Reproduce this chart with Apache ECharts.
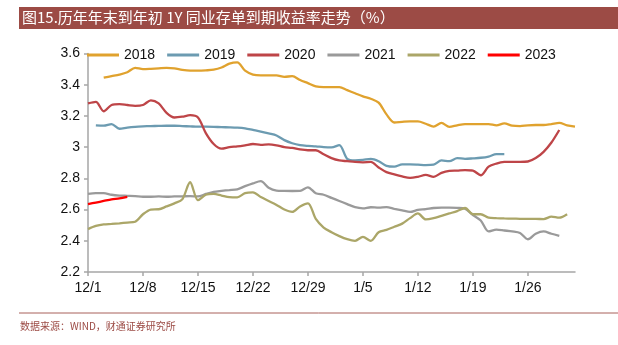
<!DOCTYPE html>
<html><head><meta charset="utf-8">
<script src="https://cdn.jsdelivr.net/npm/echarts@6/dist/echarts.min.js"></script>
<style>html,body{margin:0;padding:0;background:#fff}#c{width:618px;height:345px}</style>
</head><body><div id="c"></div>
<script>
const categories = ["12/1","12/2","12/3","12/4","12/5","12/6","12/7","12/8","12/9","12/10","12/11","12/12","12/13","12/14","12/15","12/16","12/17","12/18","12/19","12/20","12/21","12/22","12/23","12/24","12/25","12/26","12/27","12/28","12/29","12/30","12/31","1/1","1/2","1/3","1/4","1/5","1/6","1/7","1/8","1/9","1/10","1/11","1/12","1/13","1/14","1/15","1/16","1/17","1/18","1/19","1/20","1/21","1/22","1/23","1/24","1/25","1/26","1/27","1/28","1/29","1/30","1/31","2/1"];
const seriesNames = ["2018","2019","2020","2021","2022","2023"];
const y2018 = [null,null,3.445,3.455,3.465,3.48,3.508,3.50,3.502,3.505,3.508,3.505,3.495,3.49,3.49,3.492,3.496,3.51,3.535,3.543,3.49,3.465,3.46,3.46,3.46,3.45,3.455,3.43,3.41,3.39,3.385,3.385,3.385,3.365,3.345,3.325,3.31,3.285,3.21,3.158,3.162,3.165,3.165,3.15,3.132,3.155,3.13,3.14,3.148,3.148,3.148,3.148,3.14,3.152,3.138,3.135,3.14,3.142,3.142,3.148,3.155,3.14,3.132];
const y2019 = [null,3.14,3.138,3.148,3.118,3.125,3.13,3.133,3.135,3.136,3.137,3.137,3.135,3.133,3.131,3.131,3.13,3.128,3.127,3.125,3.12,3.11,3.10,3.088,3.075,3.045,3.025,3.013,3.008,3.005,3.0,2.998,3.013,2.925,2.915,2.918,2.925,2.91,2.88,2.875,2.89,2.89,2.888,2.885,2.888,2.915,2.91,2.93,2.925,2.928,2.932,2.94,2.955,2.955,null,null,null,null,null,null,null,null,null];
const y2020 = [3.28,3.29,3.23,3.27,3.275,3.27,3.265,3.27,3.30,3.28,3.22,3.19,3.195,3.205,3.19,3.09,3.02,2.99,3.0,3.005,3.012,3.02,3.015,3.018,3.012,3.0,2.995,2.985,2.98,2.98,2.955,2.93,2.915,2.91,2.905,2.903,2.905,2.87,2.84,2.825,2.812,2.803,2.81,2.822,2.81,2.835,2.848,2.85,2.853,2.85,2.82,2.875,2.895,2.905,2.906,2.906,2.908,2.93,2.97,3.03,3.11,null,null];
const y2021 = [2.70,2.705,2.705,2.695,2.69,2.688,2.686,2.682,2.682,2.684,2.682,2.684,2.685,2.686,2.684,2.70,2.714,2.72,2.725,2.73,2.75,2.768,2.782,2.74,2.722,2.72,2.719,2.72,2.742,2.705,2.695,2.675,2.655,2.635,2.615,2.608,2.615,2.612,2.616,2.605,2.595,2.585,2.598,2.603,2.61,2.612,2.612,2.611,2.605,2.565,2.53,2.46,2.472,2.466,2.46,2.45,2.41,2.445,2.46,2.445,2.432,null,null];
const y2022 = [2.475,2.495,2.505,2.508,2.512,2.517,2.522,2.57,2.60,2.602,2.62,2.64,2.665,2.775,2.66,2.695,2.70,2.69,2.68,2.678,2.705,2.71,2.68,2.655,2.63,2.60,2.585,2.62,2.64,2.54,2.485,2.455,2.43,2.41,2.40,2.425,2.40,2.455,2.47,2.49,2.51,2.545,2.575,2.537,2.545,2.56,2.575,2.59,2.61,2.57,2.57,2.548,2.545,2.543,2.542,2.541,2.54,2.54,2.539,2.555,2.548,2.57,null];
const y2023 = [2.635,2.645,2.655,2.665,2.672,2.682,null,null,null,null,null,null,null,null,null,null,null,null,null,null,null,null,null,null,null,null,null,null,null,null,null,null,null,null,null,null,null,null,null,null,null,null,null,null,null,null,null,null,null,null,null,null,null,null,null,null,null,null,null,null,null,null,null];
const yTickMin = 2.2, yTickMax = 3.6, yTickStep = 0.2;
const titleText = "图15.历年年末到年初 1Y 同业存单到期收益率走势（%）";
const sourceText = "数据来源：WIND，财通证券研究所";

const colors = ["#E0A22E","#6C9BB1","#BE4548","#9A9A9A","#ABA668","#FF0000"];
const allData = [y2018,y2019,y2020,y2021,y2022,y2023];

const chart = echarts.init(document.getElementById('c'), null, {renderer:'canvas'});
chart.setOption({
  animation:false,
  backgroundColor:'#fff',
  color: colors,
  graphic:[
    {type:'rect', left:19, top:7, shape:{width:599, height:22}, style:{fill:'#9C4B45'}},
    {type:'text', left:22, top:10, style:{text:titleText, fill:'#fff', font:'15px "Noto Sans CJK SC", sans-serif'}},
    {type:'line', shape:{x1:19, y1:313, x2:618, y2:313}, style:{stroke:'#A8615B', lineWidth:1}},
    {type:'text', left:20, top:321, style:{text:sourceText, fill:'#9C4B45', font:'10px "Noto Sans CJK SC", sans-serif'}}
  ],
  legend:{
    left:87, top:48, padding:0, itemWidth:32, itemHeight:3, itemGap:12, icon:'rect',
    textStyle:{fontFamily:'Liberation Sans, Arial', fontSize:14, color:'#111'},
    data: seriesNames
  },
  grid:{left:88, right:43, top:53.5, bottom:73, containLabel:false},
  xAxis:{
    type:'category', data:categories, boundaryGap:false,
    axisLine:{lineStyle:{color:'#A6A6A6', width:1.5}},
    axisTick:{interval:6, length:4, lineStyle:{color:'#A6A6A6', width:1.5}},
    axisLabel:{interval:6, margin:9, fontFamily:'Liberation Sans, Arial', fontSize:14, color:'#111'},
    splitLine:{show:false}
  },
  yAxis:{
    type:'value', min:yTickMin, max:yTickMax, interval:yTickStep,
    axisLine:{show:true, lineStyle:{color:'#A6A6A6', width:1.5}},
    axisTick:{show:true, length:4, lineStyle:{color:'#A6A6A6', width:1.5}},
    axisLabel:{margin:8, fontFamily:'Liberation Sans, Arial', fontSize:14, color:'#111',
      formatter: v => String(Math.round(v*10)/10)},
    splitLine:{show:false}
  },
  series: seriesNames.map((n,i)=>({
    name:n, type:'line', data:allData[i], showSymbol:false, symbol:'none',
    smooth:0.3, connectNulls:false,
    lineStyle:{width:2.3, color:colors[i]}, itemStyle:{color:colors[i]}
  }))
});
</script></body></html>
